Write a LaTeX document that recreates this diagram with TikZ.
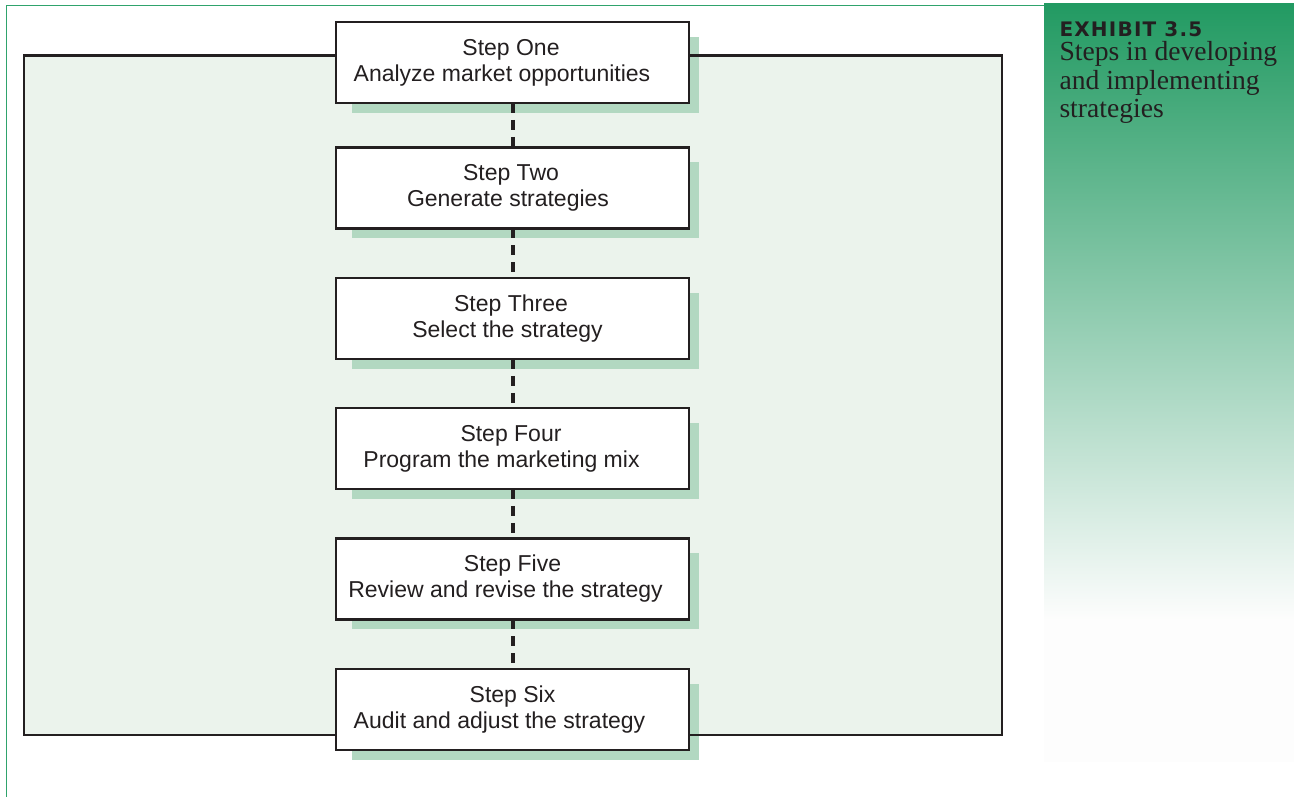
\documentclass[tikz,border=0pt]{standalone}
\usepackage{fontspec}
\setmainfont{Liberation Sans}
\newfontfamily\captionserif{Liberation Serif}
\newfontfamily\exhibitsans{DejaVu Sans}[LetterSpace=6]

\definecolor{inkdark}{HTML}{231F20}
\definecolor{framegreen}{HTML}{2FA36C}
\definecolor{paneltop}{HTML}{229A62}
\definecolor{panelmid}{HTML}{B3D9C1}
\definecolor{panelfade}{HTML}{FDFDFD}
\definecolor{fieldfill}{HTML}{EBF3EC}
\definecolor{shadowgreen}{HTML}{B2D8C1}

\pgfdeclarelayer{field}
\pgfdeclarelayer{shadows}
\pgfdeclarelayer{outline}
\pgfsetlayers{field,shadows,outline,main}

% pushes a centred line to the left by half of the given width
\newcommand{\leftpush}[1]{\hspace*{#1}}

\begin{document}
\begin{tikzpicture}[x=1pt,y=-1pt,
  stepbox/.style={draw=inkdark, line width=2.4pt, fill=white, outer sep=0pt,
    minimum width=352.6pt, minimum height=80.8pt, inner sep=0pt,
    align=center, text=inkdark, font=\fontsize{23}{26}\selectfont},
  link/.style={draw=inkdark, line width=4pt, dash pattern=on 10pt off 7pt},
  boxshadow/.style={fill=shadowgreen},
  frameline/.style={draw=framegreen, line width=1.3pt},
  fieldline/.style={draw=inkdark, line width=2.3pt},
  exhibit/.style={anchor=base west, inner sep=0pt, text=inkdark,
    font=\exhibitsans\bfseries\fontsize{20}{24}\selectfont},
  captionline/.style={anchor=base west, inner sep=0pt, text=inkdark,
    font=\captionserif\fontsize{27.6}{29}\selectfont}
]
\useasboundingbox (0,0) rectangle (1294,797);

% shaded field behind the steps
\begin{pgfonlayer}{field}
  \fill[white] (0,0) rectangle (1294,797);
  \fill[fieldfill] (23.8,55.5) rectangle (1001.7,734.7);
\end{pgfonlayer}
\begin{pgfonlayer}{outline}
  \draw[fieldline] (23.8,55.5) rectangle (1001.7,734.7);
\end{pgfonlayer}

% caption panel with its green fade
\shade[top color=paneltop, middle color=panelmid, bottom color=panelfade]
  (1044,4) rectangle (1294,620);
\fill[panelfade] (1044,620) rectangle (1294,762);
\node[exhibit] (ex) at (1059.3,36.9) {EXHIBIT 3.5};
\node[captionline] (c1) at (1059.3,61) {Steps in developing};
\node[captionline] (c2) at (1059.3,89.5) {and implementing};
\node[captionline] (c3) at (1059.3,118) {strategies};

% thin green frame
\draw[frameline] (1044,5.3) -- (6.7,5.3) -- (6.7,797);

% the six steps
\node[stepbox] (s1) at (512.5,62.6)
  {Step One\leftpush{3pt}\\Analyze market opportunities\leftpush{21pt}};
\node[stepbox] (s2) at (512.5,188)
  {Step Two\leftpush{3pt}\\Generate strategies\leftpush{9pt}};
\node[stepbox] (s3) at (512.5,318.5)
  {Step Three\leftpush{3pt}\\Select the strategy\leftpush{10pt}};
\node[stepbox] (s4) at (512.5,448.5)
  {Step Four\leftpush{3pt}\\Program the marketing mix\leftpush{22pt}};
\node[stepbox] (s5) at (512.5,579)
  {Step Five\\Review and revise the strategy\leftpush{14pt}};
\node[stepbox] (s6) at (512.5,709.5)
  {Step Six\\Audit and adjust the strategy\leftpush{26pt}};

% offset shadows under each step
\begin{pgfonlayer}{shadows}
  \foreach \n in {1,...,6}
    \fill[boxshadow] ([xshift=15.5pt,yshift=-14.5pt]s\n.north west)
      rectangle ([xshift=10.2pt,yshift=-9.7pt]s\n.south east);
\end{pgfonlayer}

% dashed links between consecutive steps
\foreach \a/\b in {1/2,2/3,3/4,4/5,5/6}
  \draw[link] (s\a.south) -- (s\b.north);
\end{tikzpicture}
\end{document}
